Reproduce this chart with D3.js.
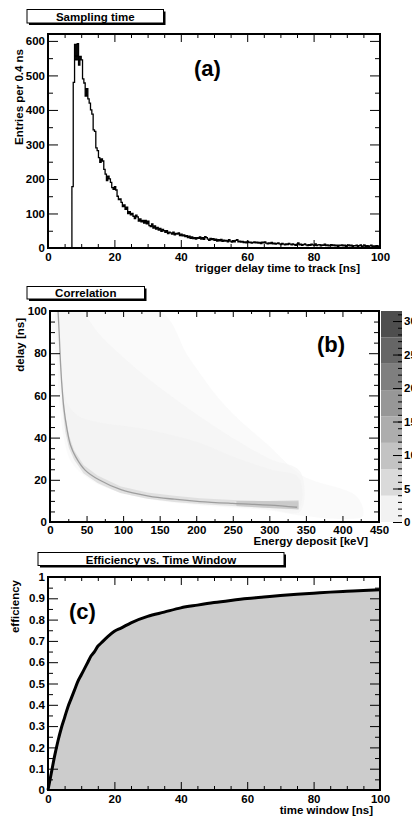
<!DOCTYPE html>
<html>
<head>
<meta charset="utf-8">
<script src="https://cdn.jsdelivr.net/npm/d3@7"></script>
<style>
  html, body { margin: 0; padding: 0; background: #fff; }
  svg { display: block; }
  text { font-family: 'Liberation Sans', Arial, Helvetica, sans-serif; font-weight: bold; fill: #000; }
</style>
</head>
<body>
<svg id="fig" width="412" height="817"></svg>
<script>
// ---------- (a) Sampling time: trigger delay histogram, 0.4 ns bins ----------
const delayBinWidth = 0.4;
const delayCounts = [
  0,0,0,0,0,0,0,0,0,0, 0,0,0,0,0,0,0,0,178,480,
  590,545,592,530,555,545,490,478,440,462, 432,420,400,388,342,338,290,282,262,248,
  258,252,228,214,195,208,200,190,175,170, 178,168,150,140,142,132,120,125,112,118,
  100,105,96,100,92,85,95,90,78,84, 76,80,72,80,70,78,65,62,70,58,
  64,55,60,52,57,48,54,50,45,50, 42,46,44,40,46,38,42,40,44,36,
  40,35,38,33,36,30,34,28,32,27, 30,26,30,28,32,26,30,25,33,30,
  26,22,28,24,27,22,26,20,24,21, 25,19,23,20,22,18,24,20,17,21,
  18,22,24,18,20,17,19,16,18,15, 19,16,17,14,16,18,15,17,14,16,
  13,17,15,18,14,12,15,13,16,12, 14,11,13,15,12,10,13,11,9,12,
  10,13,11,9,12,10,8,11,15,9, 11,8,10,12,9,7,10,8,11,9,
  8,12,7,9,10,6,9,8,11,7, 9,6,8,10,7,9,6,8,5,8,
  7,9,6,8,5,7,9,6,8,5, 7,6,8,5,7,9,5,6,8,4,
  7,5,6,8,4,6,5,7,4,6
];
const delayXTicks = [0, 20, 40, 60, 80, 100];
const delayXMinor = [5, 10, 15, 25, 30, 35, 45, 50, 55, 65, 70, 75, 85, 90, 95];
const delayYTicks = [0, 100, 200, 300, 400, 500, 600];
const delayYMinor = [50, 150, 250, 350, 450, 550];

// ---------- (b) Correlation: delay vs energy deposit ----------
const energyTicks = [0, 50, 100, 150, 200, 250, 300, 350, 400, 450];
const energyMinor = [25, 75, 125, 175, 225, 275, 325, 375, 425];
const corrDelayTicks = [0, 20, 40, 60, 80, 100];
const corrDelayMinor = [5, 10, 15, 25, 30, 35, 45, 50, 55, 65, 70, 75, 85, 90, 95];

// ridge of the distribution (most probable delay at each energy)
const ridgeEnergy = [11, 12.5, 14, 16, 19, 23, 28, 35, 48, 67, 98, 135, 170, 205, 250, 300, 338];
const ridgeDelay  = [100, 90, 78, 66, 54, 44.5, 36.5, 31, 24.6, 20, 15.2, 12.3, 10.8, 9.7, 8.8, 8.0, 7.0];

// faint outer halo of isolated entries
const farEnergy = [8, 10, 14, 20, 30, 60, 120, 200, 300, 345, 410, 428, 420, 345, 300, 240, 190, 150];
const farDelay  = [100, 75, 52, 38, 28, 19, 12, 8, 5.5, 3, 1.5, 3, 12, 22, 36, 55, 78, 100];

// inner halo
const haloEnergy = [10, 12, 15, 20, 28, 45, 80, 140, 220, 300, 342, 342, 300, 240, 180, 120, 70, 40];
const haloDelay  = [100, 80, 60, 45, 34, 24, 16, 11, 8, 6, 5, 24, 30, 42, 56, 72, 88, 100];

// filled body just above the ridge
const bodyEnergy = [13, 17, 24, 40, 70, 130, 200, 250, 300, 340, 340, 300, 250, 205, 170, 135, 98, 67, 48, 35, 28, 23, 19, 16];
const bodyDelay  = [88, 68, 56, 50, 47, 44, 38, 31, 25, 21, 6.2, 7.4, 8.3, 9.2, 10.3, 11.8, 14.7, 19.5, 24.1, 30.4, 35.8, 43.7, 53.2, 65.0];

// denser strip hugging the ridge
const stripEnergy = [14, 17, 21, 26, 33, 46, 65, 96, 133, 170, 205, 250, 300, 340, 340, 300, 250, 205, 170, 133, 96, 65, 46, 33, 26, 21, 17];
const stripDelay  = [80, 64, 50, 41, 34, 27, 22, 17, 14, 12.4, 11.3, 10.4, 9.8, 9.4, 5.9, 6.6, 7.6, 8.5, 9.5, 11.0, 13.8, 18.5, 23.0, 29.5, 35.0, 42.5, 55.0];

// darker tail of the band at high energy
const clumpEnergy = [255, 300, 340, 340, 300, 255];
const clumpDelay  = [10.0, 10.0, 10.2, 6.0, 6.6, 7.6];

const layerLevels = [1.5, 1.5, 2.5, 5.5, 9.5, 18];       // entries per cell: far, halo, body, strip, clump, ridge
const layerCover  = [0.35, 0.55, 0.85, 0.75, 0.75, 0.9]; // fraction of occupied cells

const zMax = 31.5;
const paletteColors = ['#f2f2f2', '#dadada', '#c3c3c3', '#adadad', '#979797', '#7f7f7f', '#666666', '#4e4e4e'];
const colorbarTicks = [0, 5, 10, 15, 20, 25, 30];

// ---------- (c) Efficiency vs. time window ----------
const windowNs   = [0, 1, 2, 3, 4, 5, 6, 7, 8, 9, 10, 11, 12, 13, 14, 15, 16, 18, 20, 22, 25, 30, 35, 40, 45, 50, 55, 60, 65, 70, 75, 80, 85, 90, 95, 100];
const efficiency = [0, 0.08, 0.16, 0.23, 0.29, 0.34, 0.39, 0.43, 0.47, 0.51, 0.54, 0.57, 0.60, 0.63, 0.65, 0.675, 0.69, 0.72, 0.745, 0.76, 0.785, 0.815, 0.835, 0.855, 0.868, 0.88, 0.89, 0.899, 0.906, 0.913, 0.919, 0.924, 0.929, 0.933, 0.937, 0.94];
const effXTicks = [0, 20, 40, 60, 80, 100];
const effXMinor = [5, 10, 15, 25, 30, 35, 45, 50, 55, 65, 70, 75, 85, 90, 95];
const effYTicks = [0, 0.1, 0.2, 0.3, 0.4, 0.5, 0.6, 0.7, 0.8, 0.9, 1];
const effYMinor = [0.05, 0.15, 0.25, 0.35, 0.45, 0.55, 0.65, 0.75, 0.85, 0.95];

// ======================================================================
const svg = d3.select('#fig');
svg.append('rect').attr('width', 412).attr('height', 817).attr('fill', '#fff');

// title pave with drop shadow
function pave(x0, y0, x1, y1, label, baseline) {
  svg.append('rect').attr('x', x0 + 2).attr('y', y0 + 2).attr('width', x1 - x0).attr('height', y1 - y0).attr('fill', '#000');
  svg.append('rect').attr('x', x0).attr('y', y0).attr('width', x1 - x0).attr('height', y1 - y0)
    .attr('fill', '#fff').attr('stroke', '#000').attr('stroke-width', 1);
  svg.append('text').attr('x', (x0 + x1) / 2).attr('y', baseline).attr('text-anchor', 'middle')
    .attr('font-size', 11.5).text(label);
}

// ROOT-style frame: ticks inside on all four sides, labels on bottom and left
function frame(x, y, o) {
  const [L, R] = x.range(), [B, T] = y.range();
  const g = svg.append('g');
  const clean = sel => { sel.select('.domain').remove(); sel.selectAll('line').attr('stroke', '#000').attr('stroke-width', 1); };
  const style = sel => sel.selectAll('text').attr('font-size', 11.5).attr('font-family', null).attr('fill', '#000');

  g.append('g').attr('transform', `translate(0,${B})`)
    .call(d3.axisBottom(x).tickValues(o.xMajor).tickSize(-o.xLen).tickPadding(o.xPad).tickFormat(o.xFmt || d3.format('d')))
    .call(clean).call(style);
  g.append('g').attr('transform', `translate(0,${B})`)
    .call(d3.axisBottom(x).tickValues(o.xMinor).tickSize(-o.xLen / 2).tickFormat('')).call(clean);
  g.append('g').attr('transform', `translate(0,${T})`)
    .call(d3.axisTop(x).tickValues(o.xMajor).tickSize(-o.xLen).tickFormat('')).call(clean);
  g.append('g').attr('transform', `translate(0,${T})`)
    .call(d3.axisTop(x).tickValues(o.xMinor).tickSize(-o.xLen / 2).tickFormat('')).call(clean);

  g.append('g').attr('transform', `translate(${L},0)`)
    .call(d3.axisLeft(y).tickValues(o.yMajor).tickSize(-o.yLen).tickPadding(3).tickFormat(o.yFmt || d3.format('d')))
    .call(clean).call(style);
  g.append('g').attr('transform', `translate(${L},0)`)
    .call(d3.axisLeft(y).tickValues(o.yMinor).tickSize(-o.yLen / 2).tickFormat('')).call(clean);
  g.append('g').attr('transform', `translate(${R},0)`)
    .call(d3.axisRight(y).tickValues(o.yMajor).tickSize(-o.yLen).tickFormat('')).call(clean);
  g.append('g').attr('transform', `translate(${R},0)`)
    .call(d3.axisRight(y).tickValues(o.yMinor).tickSize(-o.yLen / 2).tickFormat('')).call(clean);

  g.append('rect').attr('x', L).attr('y', T).attr('width', R - L).attr('height', B - T)
    .attr('fill', 'none').attr('stroke', '#000').attr('stroke-width', 2);

  svg.append('text').attr('x', o.xTitleX).attr('y', o.xTitleY).attr('text-anchor', 'end')
    .attr('font-size', 11.5).text(o.xTitle);
  svg.append('text').attr('transform', `translate(${o.yTitleX},${o.yTitleY}) rotate(-90)`)
    .attr('text-anchor', 'end').attr('font-size', 11.5).text(o.yTitle);
}

function tag(label, x, y) {
  svg.append('text').attr('x', x).attr('y', y).attr('font-size', 22).text(label);
}

// ---------------- (a) ----------------
{
  const x = d3.scaleLinear().domain([0, 100]).range([48, 380]);
  const y = d3.scaleLinear().domain([0, 620]).range([248, 34]);
  const pts = [];
  delayCounts.forEach((c, i) => {
    pts.push([i * delayBinWidth, c]);
    pts.push([(i + 1) * delayBinWidth, c]);
  });
  svg.append('path').datum(pts)
    .attr('d', d3.line().x(d => x(d[0])).y(d => y(d[1])))
    .attr('fill', 'none').attr('stroke', '#000').attr('stroke-width', 1.3);

  frame(x, y, {
    xMajor: delayXTicks, xMinor: delayXMinor, yMajor: delayYTicks, yMinor: delayYMinor,
    xLen: 8, yLen: 10, xPad: 5,
    xTitle: 'trigger delay time to track [ns]', xTitleX: 360, xTitleY: 272,
    yTitle: 'Entries per 0.4 ns', yTitleX: 23, yTitleY: 49
  });
  pave(27, 9.5, 163.5, 23, 'Sampling time', 20.5);
  tag('(a)', 194, 76);
}

// ---------------- (b) ----------------
{
  const x = d3.scaleLinear().domain([0, 450]).range([50, 379]);
  const y = d3.scaleLinear().domain([0, 100]).range([522, 311]);
  const levels = d3.range(1, 8).map(i => i * zMax / 8);
  const color = d3.scaleThreshold().domain(levels).range(paletteColors);

  const clip = svg.append('clipPath').attr('id', 'clipB');
  clip.append('rect').attr('x', 50).attr('y', 311).attr('width', 329).attr('height', 211);
  const gm = svg.append('g').attr('clip-path', 'url(#clipB)');

  const poly = (es, ds) => es.map((e, i) => [x(e), y(ds[i])]);
  const smooth = d3.line().curve(d3.curveCatmullRomClosed.alpha(0.5));
  const sharp = d3.line().curve(d3.curveLinearClosed);
  const shapes = [
    [farEnergy, farDelay, smooth], [haloEnergy, haloDelay, smooth], [bodyEnergy, bodyDelay, smooth],
    [stripEnergy, stripDelay, sharp], [clumpEnergy, clumpDelay, sharp]
  ];
  shapes.forEach(([es, ds, gen], k) => {
    gm.append('path').attr('d', gen(poly(es, ds)))
      .attr('fill', color(layerLevels[k])).attr('fill-opacity', layerCover[k]);
  });
  gm.append('path').attr('d', d3.line().curve(d3.curveCatmullRom.alpha(0.5))(poly(ridgeEnergy, ridgeDelay)))
    .attr('fill', 'none').attr('stroke', color(layerLevels[5])).attr('stroke-width', 1.3)
    .attr('stroke-opacity', layerCover[5]);

  frame(x, y, {
    xMajor: energyTicks, xMinor: energyMinor, yMajor: corrDelayTicks, yMinor: corrDelayMinor,
    xLen: 6, yLen: 10, xPad: 4,
    xTitle: 'Energy deposit [keV]', xTitleX: 368, xTitleY: 545,
    yTitle: 'delay [ns]', yTitleX: 24, yTitleY: 318
  });

  // colour palette
  const z = d3.scaleLinear().domain([0, zMax]).range([522, 311]);
  const edges = [0, ...levels, zMax];
  svg.append('g').selectAll('rect').data(paletteColors).join('rect')
    .attr('x', 381).attr('width', 21)
    .attr('y', (d, i) => z(edges[i + 1])).attr('height', (d, i) => z(edges[i]) - z(edges[i + 1]))
    .attr('fill', d => d);
  const zc = sel => { sel.select('.domain').remove(); sel.selectAll('line').attr('stroke', '#000'); };
  svg.append('g').attr('transform', 'translate(402,0)')
    .call(d3.axisRight(z).tickValues(d3.range(0, 32)).tickSize(-4).tickFormat('')).call(zc);
  svg.append('g').attr('transform', 'translate(402,0)')
    .call(d3.axisRight(z).tickValues(colorbarTicks).tickSize(-9).tickPadding(2).tickFormat(d3.format('d')))
    .call(zc).call(s => s.selectAll('text').attr('font-size', 11.5).attr('font-family', null).attr('fill', '#000'));

  pave(27, 286.5, 144.5, 299, 'Correlation', 297);
  tag('(b)', 317, 352);
}

// ---------------- (c) ----------------
{
  const x = d3.scaleLinear().domain([0, 100]).range([48, 380]);
  const y = d3.scaleLinear().domain([0, 1]).range([790, 577]);
  const data = windowNs.map((t, i) => [t, efficiency[i]]);
  svg.append('path').datum(data)
    .attr('d', d3.area().curve(d3.curveMonotoneX).x(d => x(d[0])).y0(y(0)).y1(d => y(d[1])))
    .attr('fill', '#cccccc');
  svg.append('path').datum(data)
    .attr('d', d3.line().curve(d3.curveMonotoneX).x(d => x(d[0])).y(d => y(d[1])))
    .attr('fill', 'none').attr('stroke', '#000').attr('stroke-width', 3);

  frame(x, y, {
    xMajor: effXTicks, xMinor: effXMinor, yMajor: effYTicks, yMinor: effYMinor,
    xLen: 8, yLen: 10, xPad: 5,
    yFmt: d => String(+d.toFixed(1)),
    xTitle: 'time window [ns]', xTitleX: 373, xTitleY: 814,
    yTitle: 'efficiency', yTitleX: 19, yTitleY: 580
  });
  pave(38, 552.5, 284, 565.5, 'Efficiency vs. Time Window', 563.5);
  tag('(c)', 69, 619);
}
</script>
</body>
</html>
